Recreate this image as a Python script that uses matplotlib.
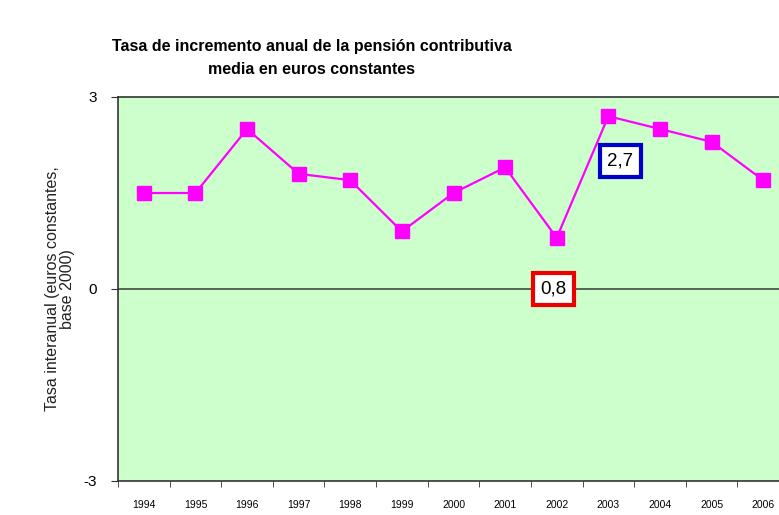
import numpy as np
import matplotlib
matplotlib.use("Agg")
import matplotlib.pyplot as plt

plt.rcParams['font.family'] = ['Liberation Sans', 'DejaVu Sans']

# datos
anios = ['1994', '1995', '1996', '1997', '1998', '1999', '2000',
         '2001', '2002', '2003', '2004', '2005', '2006']
tasa = [1.5, 1.5, 2.5, 1.8, 1.7, 0.9, 1.5, 1.9, 0.8, 2.7, 2.5, 2.3, 1.7]

fig = plt.figure(figsize=(7.79, 5.15), dpi=100)
ax = fig.add_axes([118 / 779, 1 - 481 / 515, 671 / 779, 384 / 515])
ax.set_facecolor('#ccffcc')

x = np.arange(len(anios))
ax.plot(x, tasa, color='#ff00ff', lw=1.6, marker='s', ms=10,
        markerfacecolor='#ff00ff', markeredgecolor='#ff00ff', zorder=3)
ax.axhline(0, color='#3c4a3c', lw=1.2, zorder=2)

ax.set_xlim(-0.5, len(anios) - 0.5)
ax.set_ylim(-3, 3)
ax.set_yticks([-3, 0, 3])
ax.set_yticklabels(['-3', '0', '3'], fontsize=11)
ax.set_xticks(x)
ax.set_xticklabels(anios, fontsize=7.5)
ax.set_xticks(np.arange(len(anios) + 1) - 0.5, minor=True)
ax.tick_params(axis='x', which='major', length=0, pad=14)
ax.tick_params(axis='x', which='minor', length=4, direction='out', color='#333333')
ax.tick_params(axis='y', length=5, direction='out', color='#333333', pad=10)

for s in ['left', 'bottom', 'top']:
    ax.spines[s].set_color('#333333')
    ax.spines[s].set_linewidth(1.2)
ax.spines['right'].set_visible(False)

ax.set_ylabel('Tasa interanual (euros constantes,\nbase 2000)', fontsize=11.5,
              color='#222222', labelpad=6, linespacing=1.0)

# etiquetas de mínimo y máximo
i_min = tasa.index(min(tasa))
i_max = tasa.index(max(tasa))
ax.text(i_min - 0.07, 0.0, '0,8', fontsize=13.5, ha='center', va='center', zorder=4,
        bbox=dict(boxstyle='square,pad=0.4', fc='white', ec='#ee0000', lw=3))
ax.text(i_max + 0.23, 2.0, '2,7', fontsize=13.5, ha='center', va='center', zorder=4,
        bbox=dict(boxstyle='square,pad=0.4', fc='white', ec='#0000cc', lw=3))

fig.text(312 / 779, 1 - 58 / 515,
         'Tasa de incremento anual de la pensión contributiva\nmedia en euros constantes',
         ha='center', va='center', fontsize=11.5, fontweight='bold', linespacing=1.7)

fig.savefig('out.png', dpi=100)
